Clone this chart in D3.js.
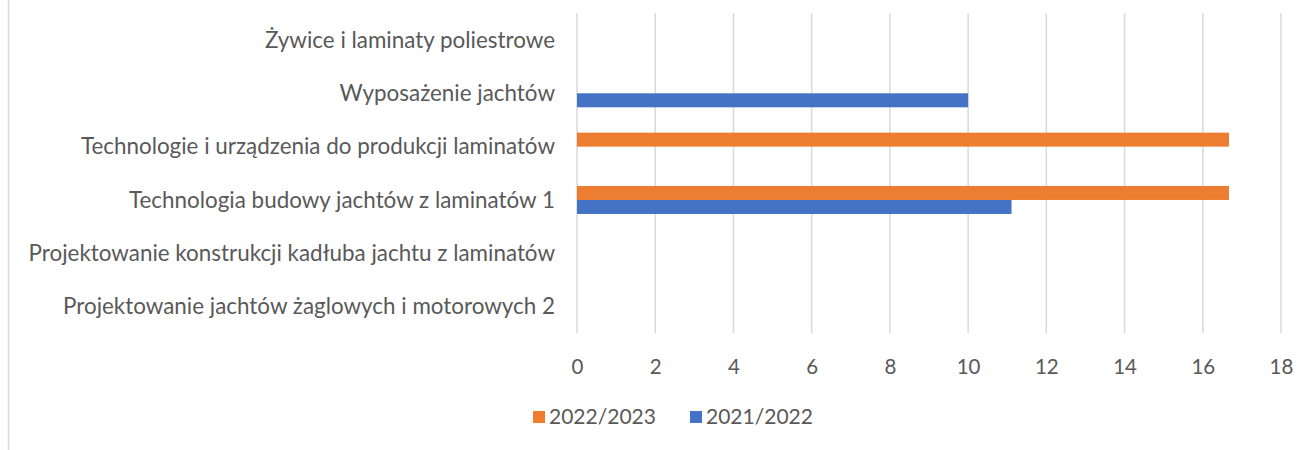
<!DOCTYPE html>
<html>
<head>
<meta charset="utf-8">
<script src="https://cdn.jsdelivr.net/npm/d3@7"></script>
<style>
  html, body { margin: 0; padding: 0; background: #fff; }
  svg { display: block; }
  text { font-family: Lato, "Open Sans", sans-serif; fill: #595959; }
</style>
</head>
<body>
<svg id="chart" width="1311" height="450"></svg>
<script>
const categories = [
  "Żywice i laminaty poliestrowe",
  "Wyposażenie jachtów",
  "Technologie i urządzenia do produkcji laminatów",
  "Technologia budowy jachtów z laminatów 1",
  "Projektowanie konstrukcji kadłuba jachtu z laminatów",
  "Projektowanie jachtów żaglowych i motorowych 2"
];
const seriesNames = ["2022/2023", "2021/2022"];
const values2022_2023 = [0, 0, 16.67, 16.67, 0, 0];
const values2021_2022 = [0, 10, 0, 11.11, 0, 0];
const seriesColors = ["#ED7D31", "#4472C4"];
const xTicks = [0, 2, 4, 6, 8, 10, 12, 14, 16, 18];

const seriesValues = [values2022_2023, values2021_2022];

const svg = d3.select("#chart");
const W = 1311, H = 450;
const plot = { left: 577, right: 1281, top: 13.3, bottom: 333.3 };

// left chart border
svg.append("line")
  .attr("x1", 8.5).attr("x2", 8.5).attr("y1", 0).attr("y2", H)
  .attr("stroke", "#d9d9d9").attr("stroke-width", 1.5);

const x = d3.scaleLinear().domain([0, 18]).range([plot.left, plot.right]);
const y = d3.scaleBand().domain(categories).range([plot.top, plot.bottom])
  .paddingInner(0.475).paddingOuter(0.2375);
const ySub = d3.scaleBand().domain(seriesNames).range([0, y.bandwidth()]);

// gridlines
svg.append("g").selectAll("line").data(xTicks).join("line")
  .attr("x1", d => x(d)).attr("x2", d => x(d))
  .attr("y1", plot.top).attr("y2", plot.bottom)
  .attr("stroke", "#d9d9d9").attr("stroke-width", 1.5);

// bars
const groups = svg.append("g").selectAll("g").data(seriesNames).join("g")
  .attr("fill", (d, i) => seriesColors[i]);
groups.each(function(s, si) {
  d3.select(this).selectAll("rect")
    .data(categories.map((c, ci) => ({ c, v: seriesValues[si][ci] })).filter(d => d.v > 0))
    .join("rect")
    .attr("x", x(0))
    .attr("y", d => y(d.c) + ySub(s))
    .attr("width", d => x(d.v) - x(0))
    .attr("height", ySub.bandwidth());
});

// x axis labels
const xAxis = d3.axisBottom(x).tickValues(xTicks).tickSize(0).tickPadding(0);
const gx = svg.append("g").attr("transform", `translate(0,${plot.bottom})`).call(xAxis);
gx.select(".domain").remove();
gx.selectAll("text")
  .attr("y", 34).attr("dy", "0.35em")
  .style("font-family", "Lato, 'Open Sans', sans-serif")
  .style("font-size", "20.5px").attr("fill", "#595959");

// y axis labels
const yAxis = d3.axisLeft(y).tickSize(0).tickPadding(0);
const gy = svg.append("g").attr("transform", `translate(555,0)`).call(yAxis);
gy.select(".domain").remove();
const yTexts = gy.selectAll("text")
  .attr("x", 0).attr("dy", "0.35em")
  .style("font-family", "Lato, 'Open Sans', sans-serif")
  .style("font-size", "20px").attr("fill", "#595959");
// fit longest label to the reference width
let maxW = 0;
yTexts.each(function() { maxW = Math.max(maxW, this.getComputedTextLength()); });
const catSize = 20 * 527 / maxW;
yTexts.style("font-size", catSize + "px");

// legend
const legend = svg.append("g").attr("transform", "translate(533,417)");
const legendX = [0, 157];
const legendTexts = [];
seriesNames.forEach((s, i) => {
  const g = legend.append("g").attr("transform", `translate(${legendX[i]},0)`);
  g.append("rect").attr("x", 0).attr("y", -6).attr("width", 12).attr("height", 12)
    .attr("fill", seriesColors[i]);
  legendTexts.push(g.append("text").attr("x", 16).attr("dy", "0.35em")
    .style("font-size", "20px").text(s));
});
const lw = legendTexts[0].node().getComputedTextLength();
legendTexts.forEach(t => t.style("font-size", (20 * 107 / lw) + "px"));
</script>
</body>
</html>
